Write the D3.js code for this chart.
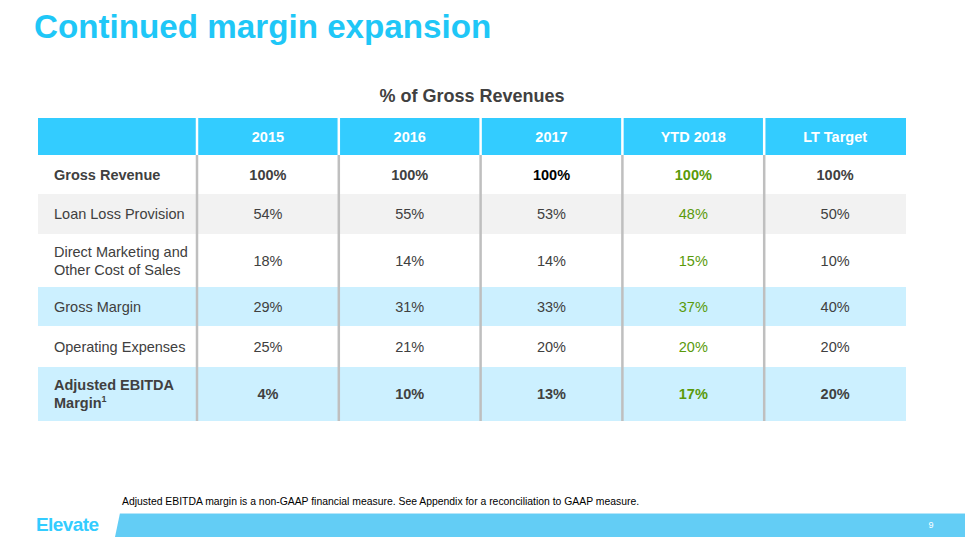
<!DOCTYPE html>
<html lang="en">
<head>
<meta charset="UTF-8">
<script src="https://d3js.org/d3.v7.min.js"></script>
<style>
  html, body { margin: 0; padding: 0; background: #fff; }
  svg { display: block; font-family: "Liberation Sans", Arial, sans-serif; }
</style>
</head>
<body>
<div id="chart"></div>
<script>
// table data
const columns = ["2015", "2016", "2017", "YTD 2018", "LT Target"];
const rowLabels = [
  ["Gross Revenue"],
  ["Loan Loss Provision"],
  ["Direct Marketing and", "Other Cost of Sales"],
  ["Gross Margin"],
  ["Operating Expenses"],
  ["Adjusted EBITDA", "Margin"]
];
const grossRevenue      = [100, 100, 100, 100, 100];
const loanLossProvision = [54, 55, 53, 48, 50];
const directMarketing   = [18, 14, 14, 15, 10];
const grossMargin       = [29, 31, 33, 37, 40];
const operatingExpenses = [25, 21, 20, 20, 20];
const adjustedEbitda    = [4, 10, 13, 17, 20];
const values = [grossRevenue, loanLossProvision, directMarketing, grossMargin, operatingExpenses, adjustedEbitda];

// layout
const W = 965, H = 537;
const rowHeights = [37, 39, 40, 53, 39, 41, 54]; // header + 6 rows
const rowFills = ["#33CCFF", "#FFFFFF", "#F2F2F2", "#FFFFFF", "#CCF0FF", "#FFFFFF", "#CCF0FF"];
const boldRows = [0, 5];
const textColor = "#404040";
const green = "#5A9A0A";
const fs = 14.5;

const svg = d3.select("#chart").append("svg")
  .attr("width", W).attr("height", H);

// title
svg.append("text")
  .attr("x", 34).attr("y", 38)
  .attr("font-size", 33.2).attr("font-weight", "bold")
  .attr("fill", "#1FC7F7")
  .text("Continued margin expansion");

svg.append("text")
  .attr("x", 472).attr("y", 102)
  .attr("text-anchor", "middle")
  .attr("font-size", 18).attr("font-weight", "bold")
  .attr("fill", textColor)
  .text("% of Gross Revenues");

// scales
const tableLeft = 38, labelRight = 197, tableRight = 906, tableTop = 118;
const x = d3.scaleBand().domain(columns).range([labelRight, tableRight]);
const rowStarts = d3.cumsum([0, ...rowHeights]);
const y = d3.scaleOrdinal()
  .domain(d3.range(rowHeights.length))
  .range(rowStarts.map(d => tableTop + d));

// row backgrounds
svg.append("g").selectAll("rect")
  .data(rowHeights)
  .join("rect")
  .attr("x", tableLeft)
  .attr("y", (d, i) => y(i))
  .attr("width", tableRight - tableLeft)
  .attr("height", d => d)
  .attr("fill", (d, i) => rowFills[i]);

// vertical separators
const tableBottom = tableTop + d3.sum(rowHeights);
const seps = svg.append("g");
seps.selectAll("line.body")
  .data(columns)
  .join("line")
  .attr("class", "body")
  .attr("x1", d => x(d)).attr("x2", d => x(d))
  .attr("y1", y(1)).attr("y2", tableBottom)
  .attr("stroke", "#BFBFBF").attr("stroke-width", 2.5);
seps.selectAll("line.head")
  .data(columns)
  .join("line")
  .attr("class", "head")
  .attr("x1", d => x(d)).attr("x2", d => x(d))
  .attr("y1", y(0)).attr("y2", y(1))
  .attr("stroke", "#FFFFFF").attr("stroke-width", 2.5);

// header text
svg.append("g").selectAll("text")
  .data(columns)
  .join("text")
  .attr("x", d => x(d) + x.bandwidth() / 2)
  .attr("y", y(0) + rowHeights[0] / 2 + 5)
  .attr("text-anchor", "middle")
  .attr("font-size", fs).attr("font-weight", "bold")
  .attr("fill", "#FFFFFF")
  .text(d => d);

// row labels
const labels = svg.append("g");
rowLabels.forEach((lines, r) => {
  const cy = y(r + 1) + rowHeights[r + 1] / 2;
  const t = labels.append("text")
    .attr("x", 54)
    .attr("font-size", fs)
    .attr("font-weight", boldRows.includes(r) ? "bold" : "normal")
    .attr("fill", textColor);
  lines.forEach((line, k) => {
    t.append("tspan")
      .attr("x", 54)
      .attr("y", cy + 5 + (k - (lines.length - 1) / 2) * 18)
      .text(line);
  });
  if (r === 5) {
    t.append("tspan").attr("dy", -6).attr("font-size", 9).text("1");
  }
});

// values
const cells = svg.append("g");
values.forEach((row, r) => {
  cells.selectAll(null)
    .data(row)
    .join("text")
    .attr("x", (d, i) => x(columns[i]) + x.bandwidth() / 2)
    .attr("y", y(r + 1) + rowHeights[r + 1] / 2 + 5)
    .attr("text-anchor", "middle")
    .attr("font-size", fs)
    .attr("font-weight", (d, i) => (boldRows.includes(r) || (r === 0 && i === 2)) ? "bold" : "normal")
    .attr("fill", (d, i) => {
      if (i === 3) return green;
      if (r === 0 && i === 2) return "#000000";
      return textColor;
    })
    .text(d => d + "%");
});

// footnote
svg.append("text")
  .attr("x", 122).attr("y", 505)
  .attr("font-size", 10.4)
  .attr("fill", "#000")
  .text("Adjusted EBITDA margin is a non-GAAP financial measure. See Appendix for a reconciliation to GAAP measure.");

// footer bar
svg.append("path")
  .attr("d", `M120,513 L${W},513 L${W},${H} L115,${H} Z`)
  .attr("fill", "#63CDF5");
svg.append("line")
  .attr("x1", 120).attr("x2", W).attr("y1", 513.5).attr("y2", 513.5)
  .attr("stroke", "#B5E6FA").attr("stroke-width", 1);

svg.append("text")
  .attr("x", 931).attr("y", 528)
  .attr("text-anchor", "middle")
  .attr("font-size", 9)
  .attr("fill", "#FFFFFF")
  .text("9");

svg.append("text")
  .attr("x", 36).attr("y", 531)
  .attr("font-size", 19)
  .attr("font-weight", "bold")
  .attr("fill", "#33CCFF")
  .attr("font-family", "'Liberation Sans Narrow', 'Liberation Sans', Arial, sans-serif")
  .attr("letter-spacing", -0.6)
  .text("Elevate");
</script>
</body>
</html>
